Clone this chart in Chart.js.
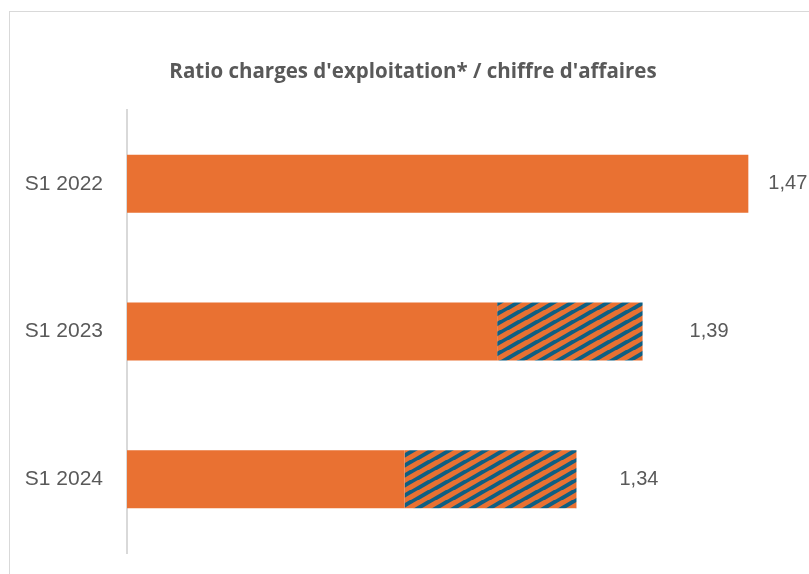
<!DOCTYPE html>
<html>
<head>
<meta charset="utf-8">
<script src="https://cdn.jsdelivr.net/npm/chart.js@4.4.1/dist/chart.umd.min.js"></script>
<style>
    html, body { margin: 0; padding: 0; background: #fff; overflow: hidden; }
    #frame {
        position: absolute; left: 9px; top: 11px;
        width: 820px; height: 600px;
        border: 1px solid #d9d9d9;
    }
    #ratioChart { position: absolute; left: 0; top: 0; }
</style>
</head>
<body>
<div id="frame"></div>
<canvas id="ratioChart" width="809" height="574"></canvas>
<script>
// Data
const categories = ['S1 2022', 'S1 2023', 'S1 2024'];
const ratioTotal = [1.47, 1.39, 1.34];
const solidPart = [1.47, 1.28, 1.21];
const hatchedPart = [0, 0.11, 0.13];

// Styles
const ORANGE = '#E97132';
const STRIPE = '#0F5F82';
const TEXT_GREY = '#595959';
const labelGap = [20, 47, 43];
const titleShift = 19;

// Hatch pattern (upward diagonal stripes)
function makeHatch() {
    const w = 18, h = 10.5;
    const c = document.createElement('canvas');
    c.width = w; c.height = h;
    const g = c.getContext('2d');
    g.fillStyle = ORANGE;
    g.fillRect(0, 0, w, h);
    g.strokeStyle = STRIPE;
    g.lineWidth = 4;
    for (let k = -1; k <= 1; k++) {
        g.beginPath();
        g.moveTo(-w, h + k * h + h);
        g.lineTo(2 * w, k * h - h);
        g.stroke();
    }
    return g.createPattern(c, 'repeat');
}

// Value labels at the end of each bar
const endLabels = {
    id: 'endLabels',
    afterLayout(chart) {
        // centre the title on the whole frame, not the plot
        const t = chart.titleBlock;
        if (t) { t.left += titleShift; t.right += titleShift; }
    },
    afterDatasetsDraw(chart) {
        const ctx = chart.ctx;
        const x = chart.scales.x;
        const meta = chart.getDatasetMeta(0);
        ctx.save();
        ctx.font = '20px "Liberation Sans", Arial, sans-serif';
        ctx.fillStyle = TEXT_GREY;
        ctx.textAlign = 'left';
        ctx.textBaseline = 'middle';
        ratioTotal.forEach((v, i) => {
            const px = x.getPixelForValue(v) + labelGap[i];
            const py = meta.data[i].y;
            ctx.fillText(v.toFixed(2).replace('.', ','), px, py);
        });
        ctx.restore();
    }
};

const ctx = document.getElementById('ratioChart').getContext('2d');
new Chart(ctx, {
    type: 'bar',
    data: {
        labels: categories,
        datasets: [{
            data: solidPart,
            backgroundColor: ORANGE,
            borderWidth: 0,
            barPercentage: 0.5,
            categoryPercentage: 0.786
        }, {
            data: hatchedPart,
            backgroundColor: makeHatch(),
            borderWidth: 0,
            barPercentage: 0.5,
            categoryPercentage: 0.786
        }]
    },
    options: {
        indexAxis: 'y',
        responsive: false,
        animation: false,
        devicePixelRatio: 1,
        layout: { autoPadding: false, padding: { left: 0, right: 21, top: 0, bottom: 21 } },
        plugins: {
            legend: { display: false },
            tooltip: { enabled: false },
            title: {
                display: true,
                text: "Ratio charges d'exploitation* / chiffre d'affaires",
                color: TEXT_GREY,
                font: { family: '"Open Sans", sans-serif', size: 20.5, weight: 'bold' },
                padding: { top: 59.7, bottom: 25.7 }
            }
        },
        scales: {
            x: {
                stacked: true,
                min: 1,
                max: 1.5,
                display: false
            },
            y: {
                stacked: true,
                afterFit: (scale) => { scale.width = 127; },
                grid: { display: false, tickLength: 24 },
                border: { display: true, color: '#d9d9d9', width: 2 },
                ticks: {
                    color: TEXT_GREY,
                    padding: 0,
                    font: { family: '"Liberation Sans", Arial, sans-serif', size: 21 }
                }
            }
        }
    },
    plugins: [endLabels]
});
</script>
</body>
</html>
